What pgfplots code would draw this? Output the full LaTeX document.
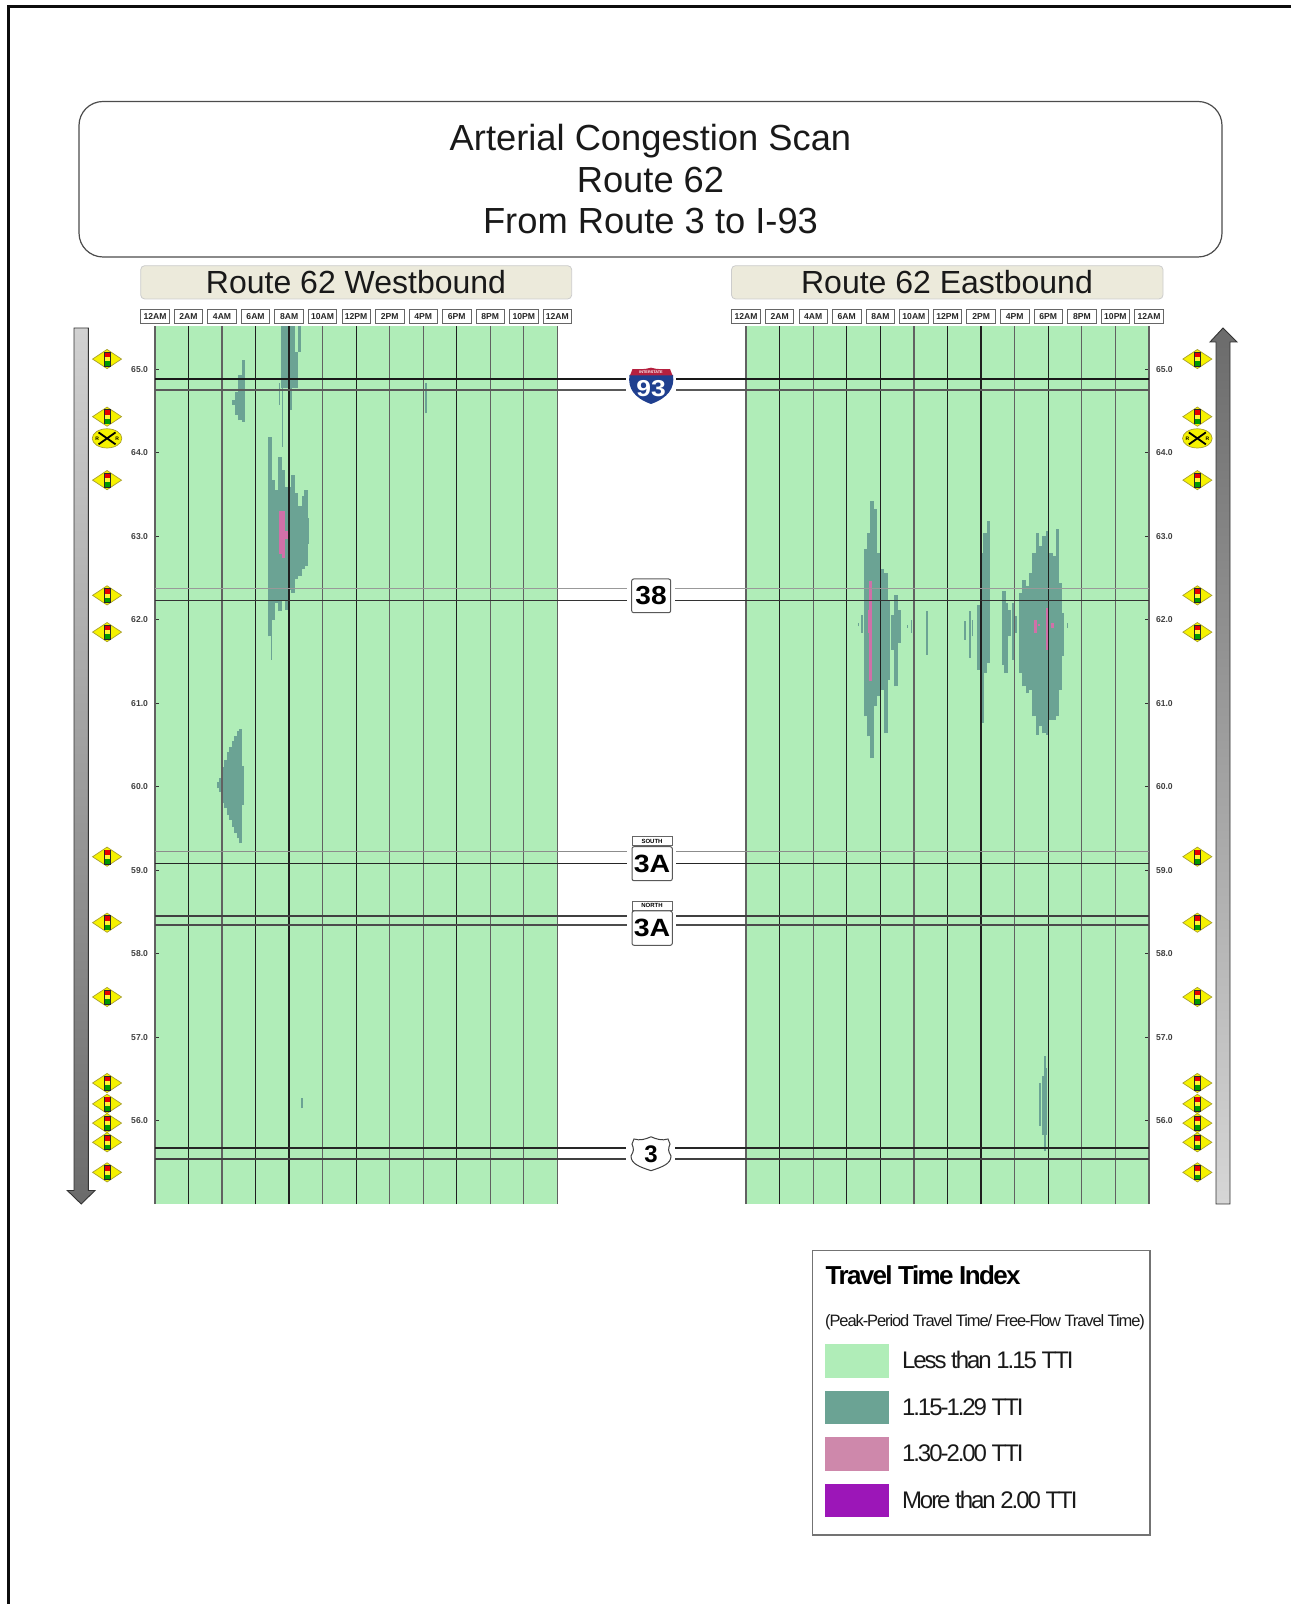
\documentclass[border=0pt]{standalone}
\usepackage{pgfplots}
\usepackage{pgfplotstable}
\usepackage{fontspec}
\setmainfont{Liberation Sans}
\pgfplotsset{compat=1.18}
\definecolor{ttiA}{HTML}{B0EDB8}
\definecolor{ttiB}{HTML}{6BA394}
\definecolor{ttiC}{HTML}{D070A8}
\definecolor{ttiCl}{HTML}{CE88AB}
\definecolor{ttiD}{HTML}{9C16B8}
\definecolor{hdr}{HTML}{ECEADB}
\definecolor{sig}{HTML}{F6F200}
\definecolor{sigedge}{HTML}{A8A030}
\definecolor{ihblue}{HTML}{1F3F8F}
\definecolor{ihred}{HTML}{B5203F}

% ---- Westbound: hour, lower mile, upper mile
\pgfplotstableread{
t lo hi
4.71 64.57 64.63
4.87 64.45 64.73
5.07 64.39 64.93
5.27 64.37 65.11
7.65 64.77 65.51
7.85 64.77 65.51
8.05 64.51 65.51
8.25 64.77 65.51
8.45 64.77 65.21
8.62 65.21 65.51
6.86 61.80 64.19
7.06 62.00 63.67
7.26 62.20 63.55
7.46 62.10 63.95
7.65 62.24 63.79
7.85 62.12 63.59
8.05 62.36 63.59
8.25 62.32 63.73
8.45 62.48 63.51
8.65 62.52 63.36
8.85 62.60 63.48
9.00 62.64 63.55
9.10 62.90 63.22
}\westB
\pgfplotstableread{
t lo hi
3.78 59.98 60.06
3.92 59.94 60.10
4.08 59.80 60.24
4.21 59.74 60.32
4.37 59.66 60.42
4.51 59.60 60.48
4.67 59.52 60.54
4.81 59.45 60.60
4.97 59.38 60.66
5.09 59.32 60.69
5.21 59.78 60.25
}\westBfine
\pgfplotstableread{
t lo hi
6.95 61.52 61.80
7.42 64.57 64.83
7.62 64.07 64.83
16.16 64.47 64.83
8.77 56.15 56.27
}\westBthin
\pgfplotstableread{
t lo hi
7.50 62.78 63.30
7.65 62.74 63.30
7.82 62.96 63.06
}\westC
% ---- Eastbound
\pgfplotstableread{
t lo hi
7.13 60.84 62.84
7.33 60.60 63.04
7.52 60.34 63.42
7.72 60.96 63.32
7.92 61.08 62.80
8.12 61.16 62.60
8.32 60.64 62.56
8.46 61.28 62.24
8.77 61.64 62.06
8.95 61.20 62.30
9.11 61.72 62.12
13.84 61.40 62.18
14.04 60.76 62.80
14.23 61.36 63.04
14.43 61.48 63.18
15.37 61.46 62.34
15.50 61.36 62.20
15.70 61.80 62.12
15.92 61.52 62.20
16.06 61.84 62.04
16.36 61.36 62.32
16.56 61.20 62.48
16.76 61.12 62.40
16.95 61.16 62.56
17.15 60.84 62.80
17.35 60.62 63.04
17.55 60.72 62.88
17.75 60.64 63.00
17.95 60.62 63.06
18.15 60.80 62.80
18.35 60.80 62.76
18.54 60.84 63.08
18.70 61.16 62.44
18.84 61.56 62.08
}\eastB
\pgfplotstableread{
t lo hi
6.92 61.84 62.06
6.70 61.92 61.96
9.61 61.90 61.94
9.87 61.84 62.00
10.00 61.60 62.08
10.78 61.58 62.10
13.04 61.76 61.98
13.34 61.54 62.10
13.48 61.80 62.00
19.14 61.90 61.96
17.51 55.94 56.45
17.69 55.83 56.53
17.81 55.63 56.77
17.91 55.83 56.63
}\eastBthin
\pgfplotstableread{
t lo hi
7.33 61.84 62.12
7.42 61.26 62.46
7.46 61.84 62.10
17.25 61.84 62.00
17.46 61.92 61.95
17.91 61.64 62.14
18.25 61.90 61.96
}\eastC

\pgfdeclareplotmark{signal}{%
  \fill[sig,draw=sigedge,line width=.7pt] (-14.5pt,0pt)--(0pt,9.6pt)--(14.5pt,0pt)--(0pt,-9.6pt)--cycle;
  \fill[black!85] (-3.1pt,-7pt) rectangle (3.1pt,7pt);
  \fill[red!90!black] (-2.2pt,2.4pt) rectangle (2.2pt,6.2pt);
  \fill[yellow!80!white] (-2.2pt,-1.6pt) rectangle (2.2pt,1.6pt);
  \fill[green!60!black] (-2.2pt,-6.2pt) rectangle (2.2pt,-2.4pt);
}
\pgfdeclareplotmark{rrx}{%
  \fill[sig,draw=sigedge,line width=.7pt] (0pt,0pt) ellipse (14.8pt and 9.6pt);
  \draw[black,line width=1.8pt] (-8.5pt,-6pt)--(8.5pt,6pt) (-8.5pt,6pt)--(8.5pt,-6pt);
  \node[font=\fontsize{5}{5}\selectfont\bfseries,inner sep=0pt] at (-10pt,0pt) {R};
  \node[font=\fontsize{5}{5}\selectfont\bfseries,inner sep=0pt] at (10pt,0pt) {R};
}

\pgfplotsset{
  panel/.style={
    scale only axis, height=877.6pt, clip=false,
    anchor=south west,
    xmin=0, xmax=24, ymin=55.0, ymax=65.51,
    axis on top,
    axis background/.style={fill=ttiA},
    axis x line*=top,
    axis line style={draw=none},
    xtick={2,6,8,12,18},
    xticklabels={2AM,6AM,8AM,12PM,6PM},
    xmajorgrids,
    major grid style={black!88,line width=1.3pt},
    xtick style={draw=none},
    xticklabel shift=2.5pt,
    xticklabel style={font=\fontsize{8.6}{9}\selectfont\bfseries,text=black!85,
      draw=black!60,line width=.8pt,fill=white,inner sep=0pt,
      minimum width=28.5pt,minimum height=14pt,text height=6.2pt,text depth=0pt},
    ytick={56,57,...,65},
    yticklabel shift=3.5pt,
    yticklabel style={font=\fontsize{8.6}{9}\selectfont\bfseries,text=black!75,
      /pgf/number format/.cd,fixed,fixed zerofill,precision=1,assume math mode=true},
    ytick style={black!80,line width=.8pt},
    major tick length=4.3pt,
  },
  cols/.style n args={2}{draw=none,mark=none,forget plot,
    error bars/.cd,y dir=plus,y explicit,error mark=none,
    error bar style={color=#1,line width=#2}},
}
\newcommand{\slices}[3]{\addplot[cols={#2}{#3}] table[x=t,y=lo,y error expr=\thisrow{hi}-\thisrow{lo}] {#1};}
\newcommand{\roadline}[3]{\addplot[#1,line width=#2,forget plot] coordinates {(155,#3) (1149,#3)};}

\begin{document}
\begin{tikzpicture}[x=1pt,y=1pt]
\useasboundingbox (0,0) rectangle (1291,1604);
\begin{scope}[y=-1pt,yshift=1604pt]
  % page frame
  \draw[black!95,line width=2.4pt] (8.5,1604)--(8.5,6.5)--(1291,6.5);
  % title block
  \draw[black!70,line width=1.2pt,rounded corners=24pt] (79,101.5) rectangle (1222,257);
  \node[anchor=base,font=\fontsize{36.3}{36}\selectfont,text=black!90] at (650.5,150.5) {Arterial Congestion Scan};
  \node[anchor=base,font=\fontsize{36.3}{36}\selectfont,text=black!90] at (650.5,192.5) {Route 62};
  \node[anchor=base,font=\fontsize{36.3}{36}\selectfont,text=black!90] at (650.5,233.5) {From Route 3 to I-93};
  % panel headers
  \draw[fill=hdr,draw=black!20,line width=.8pt,rounded corners=4pt] (140.7,265.7) rectangle (571.7,299);
  \draw[fill=hdr,draw=black!20,line width=.8pt,rounded corners=4pt] (731.5,265.7) rectangle (1163,299);
  \node[font=\fontsize{32}{32}\selectfont,text=black!90] at (356,282.5) {Route 62 Westbound};
  \node[font=\fontsize{32}{32}\selectfont,text=black!90] at (947,282.5) {Route 62 Eastbound};
  % direction arrows
  \shade[top color=black!18,bottom color=black!58,draw=black!80,line width=.9pt]
    (74,328)--(88.3,328)--(88.3,1190.5)--(95,1190.5)--(81.2,1204)--(67.3,1190.5)--(74,1190.5)--cycle;
  \shade[top color=black!58,bottom color=black!16,draw=black!80,line width=.9pt]
    (1216,1204)--(1230,1204)--(1230,342)--(1237,342)--(1223,328)--(1210,342)--(1216,342)--cycle;
  % legend frame and headings
  \draw[black!55,line width=1.1pt,fill=white] (812.3,1250.3) rectangle (1150,1535);
  \node[anchor=west,inner sep=0pt,font=\fontsize{26}{26}\selectfont\bfseries\addfontfeature{LetterSpace=-6.3}] at (825.5,1275) {Travel Time Index};
  \node[anchor=west,inner sep=0pt,font=\fontsize{16.5}{17}\selectfont\addfontfeature{LetterSpace=-6.7},text=black!90] at (825,1322.5) {(Peak-Period Travel Time/ Free-Flow Travel Time)};
\end{scope}

% ---------- Westbound panel
\begin{axis}[panel,width=402.3pt,at={(155pt,399.9pt)},
  axis y line*=left,
  extra x ticks={0,4,10,14,16,20,22,24},
  extra x tick labels={12AM,4AM,10AM,2PM,4PM,8PM,10PM,12AM},
  extra x tick style={grid=major,major grid style={black!62,line width=1.2pt}},
]
  \slices{\westB}{ttiB}{3.6pt}
  \slices{\westBfine}{ttiB}{2.8pt}
  \slices{\westBthin}{ttiB}{1.5pt}
  \slices{\westC}{ttiC}{3pt}
  \addplot[only marks,mark=signal,forget plot] coordinates {
    (-2.86,65.12) (-2.86,64.43) (-2.86,63.67) (-2.86,62.29) (-2.86,61.85) (-2.86,59.16)
    (-2.86,58.37) (-2.86,57.48) (-2.86,56.45) (-2.86,56.20) (-2.86,55.97) (-2.86,55.74) (-2.86,55.38)};
  \addplot[only marks,mark=rrx,forget plot] coordinates {(-2.86,64.17)};
\end{axis}

% ---------- Eastbound panel
\begin{axis}[panel,width=403pt,at={(746pt,399.9pt)},
  axis y line*=right,
  xtick={2,6,8,12,14,18},
  xticklabels={2AM,6AM,8AM,12PM,2PM,6PM},
  extra x ticks={0,4,10,16,20,22,24},
  extra x tick labels={12AM,4AM,10AM,4PM,8PM,10PM,12AM},
  extra x tick style={grid=major,major grid style={black!62,line width=1.2pt}},
  legend style={at={(0.1948,-0.1596)},anchor=north west,draw=none,fill=none,inner sep=0pt,outer sep=0pt,
    row sep=12.9pt,
    nodes={inner sep=0pt,anchor=west,font=\fontsize{24}{25}\selectfont\addfontfeature{LetterSpace=-8.5},text=black!90}},
  legend cell align=left,
  legend image code/.code={\fill[#1,draw=none] (0pt,-16.8pt) rectangle (64pt,16.8pt); \path[draw=none] (0pt,0pt)--(77.5pt,0pt);},
]
  \slices{\eastB}{ttiB}{3.6pt}
  \slices{\eastBthin}{ttiB}{1.5pt}
  \slices{\eastC}{ttiC}{2.4pt}
  \addplot[only marks,mark=signal,forget plot] coordinates {
    (26.88,65.12) (26.88,64.43) (26.88,63.67) (26.88,62.29) (26.88,61.85) (26.88,59.16)
    (26.88,58.37) (26.88,57.48) (26.88,56.45) (26.88,56.20) (26.88,55.97) (26.88,55.74) (26.88,55.38)};
  \addplot[only marks,mark=rrx,forget plot] coordinates {(26.88,64.17)};
  \addlegendimage{ttiA}\addlegendentry{Less than 1.15 TTI}
  \addlegendimage{ttiB}\addlegendentry{1.15-1.29 TTI}
  \addlegendimage{ttiCl}\addlegendentry{1.30-2.00 TTI}
  \addlegendimage{ttiD}\addlegendentry{More than 2.00 TTI}
\end{axis}

% ---------- Road crossings across both panels
\begin{axis}[scale only axis,width=994pt,height=877.6pt,at={(155pt,399.9pt)},anchor=south west,
  xmin=155,xmax=1149,ymin=55.0,ymax=65.51,hide axis,clip=false]
  \roadline{black!90}{1.9pt}{64.88}
  \roadline{black!65}{1.5pt}{64.75}
  \roadline{black!40}{1.3pt}{62.37}
  \roadline{black!80}{1.5pt}{62.23}
  \roadline{black!45}{1.3pt}{59.22}
  \roadline{black!85}{1.4pt}{59.08}
  \roadline{black!75}{1.4pt}{58.45}
  \roadline{black!70}{1.4pt}{58.34}
  \roadline{black!85}{1.4pt}{55.67}
  \roadline{black!75}{1.5pt}{55.54}
\end{axis}

% ---------- Route shields
\begin{scope}[y=-1pt,yshift=1604pt]
  \fill[white] (626,376) rectangle (676,393);
  \fill[white] (627,587) rectangle (675,603);
  \fill[white] (627,849) rectangle (676,866);
  \fill[white] (627,914) rectangle (676,929);
  \fill[white] (626,1146) rectangle (675,1161);
  % I-93
  \fill[ihblue] (629.5,375) -- (673,375) .. controls (675,388) and (668,398) .. (651,404) .. controls (634,398) and (627.5,388) .. (629.5,375) -- cycle;
  \fill[ihred] (630,375.5) -- (672.5,375.5) -- (670,369) .. controls (664,369.5) and (657,369.5) .. (651,367.7) .. controls (645,369.5) and (638,369.5) .. (632.5,369) -- cycle;
  \node[font=\fontsize{3.8}{4}\selectfont\bfseries,text=white,inner sep=0pt] at (651,372) {INTERSTATE};
  \node[font=\fontsize{23}{23}\selectfont\bfseries,text=white,inner sep=0pt] at (651,388.5) {\scalebox{1.15}[1]{93}};
  % 38
  \draw[fill=white,draw=black!65,line width=1pt,rounded corners=2pt] (631.7,579) rectangle (670.7,612.7);
  \node[font=\fontsize{26}{26}\selectfont\bfseries,text=black,inner sep=0pt] at (651,596) {\scalebox{1.08}[1]{38}};
  % 3A south
  \draw[fill=white,draw=black!60,line width=.9pt] (632,836.7) rectangle (672,845.5);
  \node[font=\fontsize{6}{6}\selectfont\bfseries,inner sep=0pt] at (652,841.2) {SOUTH};
  \draw[fill=white,draw=black!65,line width=1pt,rounded corners=2pt] (632,846.7) rectangle (672.3,880.7);
  \node[font=\fontsize{25}{25}\selectfont\bfseries,text=black,inner sep=0pt] at (652,863.5) {\scalebox{1.14}[1]{3A}};
  % 3A north
  \draw[fill=white,draw=black!60,line width=.9pt] (632,901) rectangle (672,910);
  \node[font=\fontsize{6}{6}\selectfont\bfseries,inner sep=0pt] at (652,905.5) {NORTH};
  \draw[fill=white,draw=black!65,line width=1pt,rounded corners=2pt] (632,911) rectangle (672.3,945.3);
  \node[font=\fontsize{25}{25}\selectfont\bfseries,text=black,inner sep=0pt] at (652,928) {\scalebox{1.14}[1]{3A}};
  % US 3
  \draw[fill=white,draw=black!75,line width=1pt]
    (634,1139) .. controls (640,1141) and (646,1139) .. (651,1136.8) .. controls (656,1139) and (662,1141) .. (668,1139)
    -- (670,1144) .. controls (668,1149) and (668,1151) .. (671,1156) .. controls (671,1164) and (662,1167) .. (651,1170.7)
    .. controls (640,1167) and (631,1164) .. (631,1156) .. controls (634,1151) and (634,1149) .. (632,1144) -- cycle;
  \node[font=\fontsize{24}{24}\selectfont\bfseries,text=black,inner sep=0pt] at (651,1154) {3};
\end{scope}
\end{tikzpicture}
\end{document}
